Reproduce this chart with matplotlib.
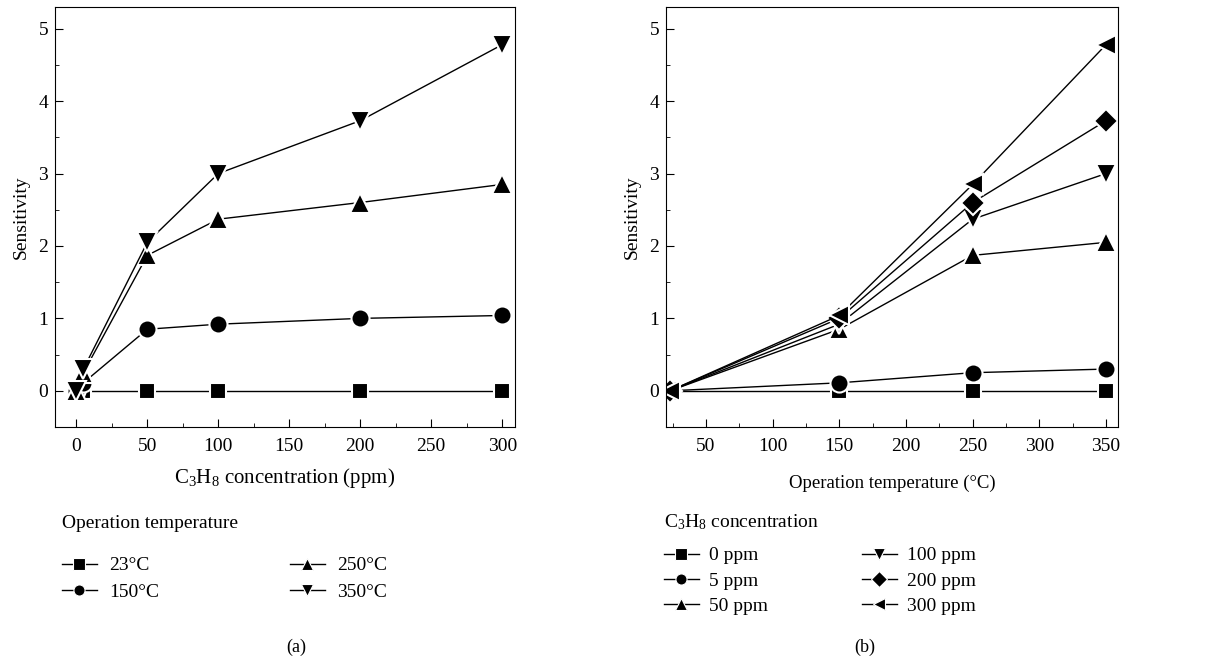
import numpy as np
import matplotlib
matplotlib.use("Agg")
import matplotlib.pyplot as plt
from matplotlib.ticker import MultipleLocator

plt.rcParams['font.family'] = ['Liberation Serif', 'DejaVu Serif']
plt.rcParams['mathtext.fontset'] = 'custom'
plt.rcParams['mathtext.rm'] = 'Liberation Serif'
plt.rcParams['mathtext.it'] = 'Liberation Serif:italic'
plt.rcParams['font.size'] = 14

# (a) sensitivity vs C3H8 concentration
conc = [0, 5, 50, 100, 200, 300]
temp_labels = ['23°C', '150°C', '250°C', '350°C']
sens_23 = [0, 0, 0, 0, 0, 0]
sens_150 = [0, 0.11, 0.85, 0.92, 1.00, 1.04]
sens_250 = [0, 0.25, 1.87, 2.37, 2.60, 2.85]
sens_350 = [0, 0.30, 2.05, 3.00, 3.73, 4.78]

# (b) sensitivity vs operation temperature
temps = [23, 150, 250, 350]
conc_labels = ['0 ppm', '5 ppm', '50 ppm', '100 ppm', '200 ppm', '300 ppm']
sens_0ppm = [0, 0, 0, 0]
sens_5ppm = [0, 0.11, 0.25, 0.30]
sens_50ppm = [0, 0.85, 1.87, 2.05]
sens_100ppm = [0, 0.92, 2.37, 3.00]
sens_200ppm = [0, 1.00, 2.60, 3.73]
sens_300ppm = [0, 1.04, 2.85, 4.78]

W, H = 1207, 661
fig = plt.figure(figsize=(W / 100, H / 100), dpi=100)
ax1 = fig.add_axes([55 / W, 1 - 427 / H, 460 / W, 420 / H])
ax2 = fig.add_axes([666 / W, 1 - 427 / H, 452 / W, 420 / H])


def style(ax):
    ax.tick_params(direction='in', which='both', top=False, right=False, labelsize=14)
    ax.tick_params(axis='x', which='major', length=6, pad=8)
    ax.tick_params(axis='y', which='major', length=6, pad=5)
    ax.tick_params(which='minor', length=3)
    ax.yaxis.set_major_locator(MultipleLocator(1))
    ax.yaxis.set_minor_locator(MultipleLocator(0.5))
    ax.set_ylim(-0.5, 5.3)
    ax.set_ylabel('Sensitivity', fontsize=14, labelpad=6)


def draw(ax, x, ys, markers, sizes):
    for y, m, s in zip(ys, markers, sizes):
        ax.plot(x, y, color='black', lw=1, marker=m, ms=s,
                mfc='black', mec='white', mew=1.5)


mk_a = ['s', 'o', '^', 'v']
sz_a = [12, 13, 15, 15]
draw(ax1, conc, [sens_23, sens_150, sens_250, sens_350], mk_a, sz_a)
style(ax1)
ax1.set_xlim(-15, 309)
ax1.xaxis.set_major_locator(MultipleLocator(50))
ax1.xaxis.set_minor_locator(MultipleLocator(25))
ax1.set_xlabel('C$_3$H$_8$ concentration (ppm)', fontsize=15, labelpad=8)

mk_b = ['s', 'o', '^', 'v', 'D', '<']
sz_b = [12, 13, 15, 15, 12, 15]
draw(ax2, temps, [sens_0ppm, sens_5ppm, sens_50ppm, sens_100ppm,
                  sens_200ppm, sens_300ppm], mk_b, sz_b)
style(ax2)
ax2.set_xlim(20, 359)
ax2.xaxis.set_major_locator(MultipleLocator(50))
ax2.xaxis.set_minor_locator(MultipleLocator(25))
ax2.set_xlabel('Operation temperature (°C)', fontsize=13.5, labelpad=14)


# legends below the panels
def legend_handles(markers):
    return [plt.Line2D([], [], color='black', lw=1, marker=m, ms=8,
                       mfc='black', mec='white', mew=0.8) for m in markers]


fig.text(62 / W, 1 - 524 / H, 'Operation temperature', fontsize=14, va='center')
fig.legend(legend_handles(mk_a), temp_labels, ncol=2, frameon=False,
           loc='upper left', bbox_to_anchor=(52 / W, 1 - 547 / H),
           fontsize=14, handlelength=1.8, columnspacing=6.7, borderpad=0,
           labelspacing=0.45, handletextpad=0.65)

fig.text(664 / W, 1 - 522 / H, 'C$_3$H$_8$ concentration', fontsize=14, va='center')
fig.legend(legend_handles(mk_b), conc_labels, ncol=2, frameon=False,
           loc='upper left', bbox_to_anchor=(654 / W, 1 - 537 / H),
           fontsize=14, handlelength=1.8, columnspacing=4.8, borderpad=0,
           labelspacing=0.4, handletextpad=0.55)

fig.text(296 / W, 1 - 647 / H, '(a)', fontsize=13, ha='center', va='center')
fig.text(865 / W, 1 - 647 / H, '(b)', fontsize=13, ha='center', va='center')

fig.savefig('out.png', dpi=100)
